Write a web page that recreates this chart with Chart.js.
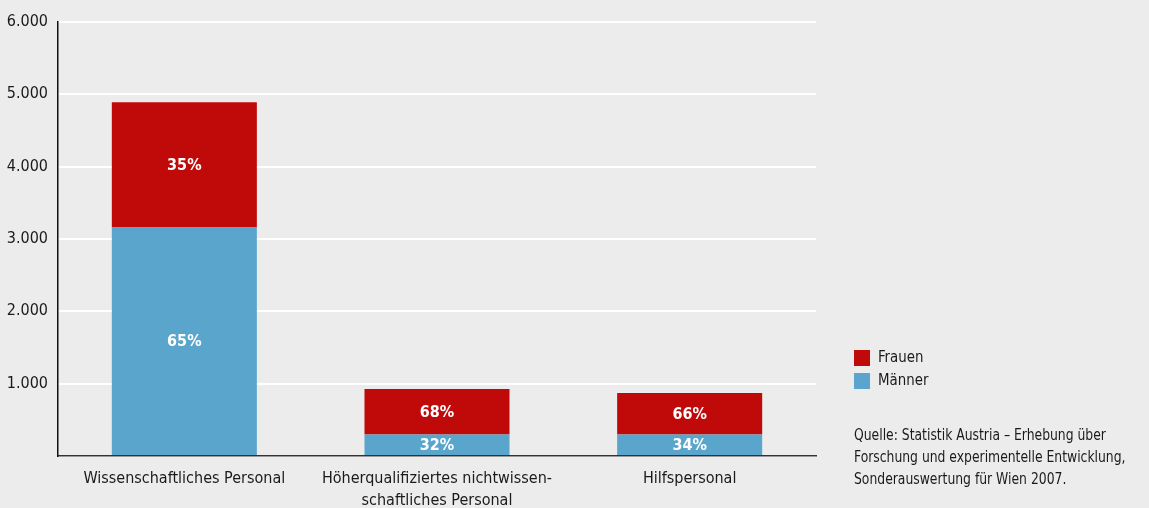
<!DOCTYPE html>
<html lang="de">
<head>
<meta charset="utf-8">
<script src="https://cdn.jsdelivr.net/npm/chart.js@4"></script>
<style>
  html, body { margin: 0; padding: 0; background: #ececec; }
  body { width: 1149px; height: 508px; position: relative; overflow: hidden;
         font-family: "DejaVu Sans Condensed", "DejaVu Sans", sans-serif; color: #1a1a1a; }
  #myChart { position: absolute; left: 0; top: 0; }
  .box { position: absolute; left: 854px; width: 16px; height: 16px; }
  .leg, #src { position: absolute; font-size: 16px; white-space: nowrap; transform-origin: 0 0; }
  .leg { left: 878px; line-height: 16px; transform: scaleX(0.93); }
  #src { left: 854px; top: 424px; line-height: 22px; transform: scaleX(0.86); }
</style>
</head>
<body>
<canvas id="myChart" width="1149" height="508"></canvas>
<div class="box" style="top:350px; background:#c00a0a"></div>
<div class="leg" style="top:349px">Frauen</div>
<div class="box" style="top:373px; background:#5aa5cb"></div>
<div class="leg" style="top:372px">Männer</div>
<div id="src">Quelle: Statistik Austria – Erhebung über<br>Forschung und experimentelle Entwicklung,<br>Sonderauswertung für Wien 2007.</div>
<script>
const categories = ['Wissenschaftliches Personal', ['Höherqualifiziertes nichtwissen-', 'schaftliches Personal'], 'Hilfspersonal'];
const maenner = [3160, 296, 296];
const frauen = [1730, 630, 575];
const yMax = 6000;
const yStep = 1000;

const FONT = '"DejaVu Sans Condensed", "DejaVu Sans", sans-serif';

// percentage labels inside each segment
const pctLabels = {
  id: 'pctLabels',
  afterDatasetsDraw(chart) {
    const c = chart.ctx;
    c.save();
    c.fillStyle = '#fff';
    c.font = 'bold 16px ' + FONT;
    c.textAlign = 'center';
    c.textBaseline = 'middle';
    chart.data.datasets.forEach((ds, di) => {
      chart.getDatasetMeta(di).data.forEach((bar, i) => {
        const total = maenner[i] + frauen[i];
        const pct = Math.round(ds.data[i] / total * 100) + '%';
        c.fillText(pct, bar.x, (bar.y + bar.base) / 2 + 1);
      });
    });
    c.restore();
  }
};

const ctx = document.getElementById('myChart').getContext('2d');
Chart.defaults.font.family = FONT;
Chart.defaults.color = '#1a1a1a';

var myChart = new Chart(ctx, {
  type: 'bar',
  data: {
    labels: categories,
    datasets: [{
      label: 'Männer',
      data: maenner,
      backgroundColor: '#5aa5cb'
    }, {
      label: 'Frauen',
      data: frauen,
      backgroundColor: '#c00a0a'
    }]
  },
  options: {
    responsive: false,
    animation: false,
    devicePixelRatio: 1,
    layout: { padding: { top: 22, right: 333, left: 0, bottom: 0 } },
    datasets: { bar: { categoryPercentage: 0.574, barPercentage: 1 } },
    plugins: { legend: { display: false }, tooltip: { enabled: false } },
    scales: {
      x: {
        stacked: true,
        border: { color: '#333', width: 1.5 },
        grid: {
          drawTicks: false,
          lineWidth: 2,
          color: c => c.index === categories.length ? '#ffffff' : 'rgba(0,0,0,0)'
        },
        ticks: { font: { size: 16, lineHeight: 1.35 }, padding: 12, maxRotation: 0, autoSkip: false },
        afterFit: s => { s.height = 52; }
      },
      y: {
        stacked: true,
        min: 0,
        max: yMax,
        border: { color: '#111', width: 1.5 },
        grid: { color: '#ffffff', lineWidth: 2, drawTicks: false },
        ticks: {
          stepSize: yStep,
          padding: 10,
          font: { size: 16 },
          callback: v => v === 0 ? '' : v.toLocaleString('de-DE')
        },
        afterFit: s => { s.width = 58; }
      }
    }
  },
  plugins: [pctLabels]
});
</script>
</body>
</html>
